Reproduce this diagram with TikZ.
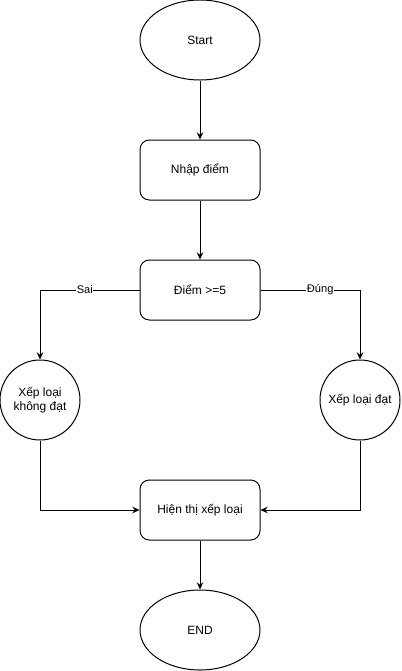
\documentclass[tikz,border=0pt]{standalone}
\usepackage{fontspec}
\setmainfont{Liberation Sans}
\usetikzlibrary{shapes.geometric,arrows.meta}
\begin{document}
\begin{tikzpicture}[x=0.75pt,y=-0.75pt,
  every node/.style={font=\fontsize{9}{11}\selectfont},
  base/.style={draw,line width=0.75pt,inner sep=0pt,align=center},
  term/.style={base,ellipse,minimum width=90pt,minimum height=60pt},
  proc/.style={base,rectangle,rounded corners=7pt,minimum width=90pt,minimum height=45pt},
  grade/.style={base,circle,minimum size=60pt},
  flow/.style={line width=0.75pt,-{Stealth[length=5.5pt,width=5pt,inset=2pt]}},
  lbl/.style={fill=white,inner sep=0.5pt,font=\fontsize{8.3}{10}\selectfont}]
  \useasboundingbox (0,0) rectangle (401,671);

  \node[term] (start) at (200,40) {Start};
  \node[proc] (input) at (200,170) {Nhập điểm};
  \node[proc] (test) at (200,290) {Điểm >=5};
  \node[grade] (fail) at (40,400) {Xếp loại\\không đạt};
  \node[grade] (pass) at (360,400) {Xếp loại đạt};
  \node[proc] (show) at (200,510) {Hiện thị xếp loại};
  \node[term] (stop) at (200,630) {END};

  \draw[flow] (start) -- (input);
  \draw[flow] (input) -- (test);
  \draw[flow] (test.west) -| (fail.north) node[lbl,pos=0.275] {Sai};
  \draw[flow] (test.east) -| (pass.north) node[lbl,pos=0.3] {Đúng};
  \draw[flow] (fail.south) |- (show.west);
  \draw[flow] (pass.south) |- (show.east);
  \draw[flow] (show) -- (stop);
\end{tikzpicture}
\end{document}
